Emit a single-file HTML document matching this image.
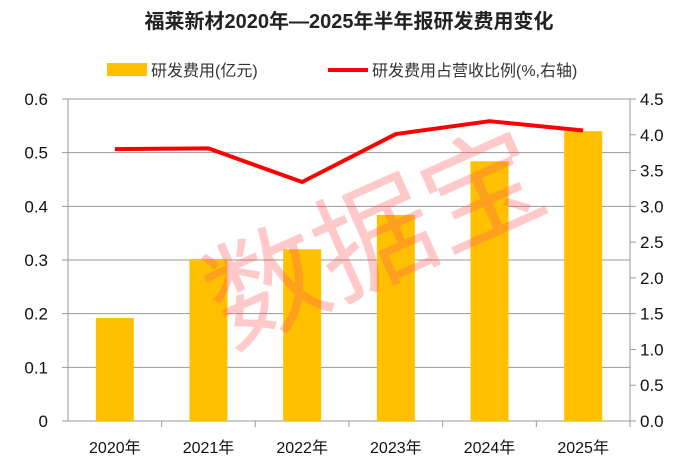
<!DOCTYPE html>
<html><head><meta charset="utf-8"><style>
body{margin:0;background:#fff;}
svg text{font-family:"Liberation Sans","Noto Sans CJK SC",sans-serif;}
</style></head><body>
<svg width="698" height="468" viewBox="0 0 698 468">
<text x="349" y="28" text-anchor="middle" font-size="20" font-weight="bold" fill="#222">福莱新材2020年—2025年半年报研发费用变化</text>
<g>
<rect x="107" y="63" width="40" height="13" fill="#FFC000"/>
<text x="151" y="76" font-size="16" fill="#333">研发费用(亿元)</text>
<line x1="328" y1="70" x2="368" y2="70" stroke="#FF0000" stroke-width="4"/>
<text x="372" y="76" font-size="16" fill="#333">研发费用占营收比例(%,右轴)</text>
</g>
<g id="grid"></g>
<g id="bars"></g>
<g id="axes"></g>
<polyline id="line" fill="none" stroke="#FF0000" stroke-width="4" stroke-linejoin="round"/>
<text x="375" y="280" text-anchor="middle" font-size="118" fill="rgba(255,90,90,0.33)" transform="rotate(-24 375 240)">数据宝</text>
</svg>
<script>
const categories=["2020年","2021年","2022年","2023年","2024年","2025年"];
const expense=[0.192,0.302,0.32,0.384,0.484,0.54];
const ratio=[3.80,3.81,3.34,4.01,4.19,4.06];
const leftTicks=[0,0.1,0.2,0.3,0.4,0.5,0.6];
const rightTicks=[0,0.5,1,1.5,2,2.5,3,3.5,4,4.5];
const X0=68,X1=630,Y0=421,Y1=99;
const ns="http://www.w3.org/2000/svg";
const yL=v=>Y0-(v/0.6)*(Y0-Y1);
const yR=v=>Y0-(v/4.5)*(Y0-Y1);
const step=(X1-X0)/categories.length;
const xC=i=>X0+step*(i+0.5);
function mk(tag,attrs,parent){const e=document.createElementNS(ns,tag);for(const k in attrs)e.setAttribute(k,attrs[k]);document.getElementById(parent).appendChild(e);return e;}
leftTicks.forEach(v=>{
 const y=yL(v);
 const g=mk('line',{x1:X0-6,x2:X1,y1:y,y2:y,stroke:'#999','stroke-width':1},'grid');
 
 
 const t=mk('text',{x:48,y:y+6,'text-anchor':'end','font-size':17,fill:'#111'},'axes');
 t.textContent=v===0?'0':v.toFixed(1);
 
 
});
rightTicks.forEach(v=>{
 const y=yR(v);
 const l=mk('line',{x1:X1,x2:X1+6,y1:y,y2:y,stroke:'#999'},'axes');
 
 
 const t=mk('text',{x:640,y:y+6,'font-size':17,fill:'#111'},'axes');
 t.textContent=v.toFixed(1);
 
 
});
const la=mk('line',{x1:X0,x2:X0,y1:Y1,y2:Y0,stroke:'#999'},'axes');


const ra=mk('line',{x1:X1,x2:X1,y1:Y1,y2:Y0,stroke:'#999'},'axes');


categories.forEach((c,i)=>{
 const b=mk('rect',{x:xC(i)-19,y:yL(expense[i]),width:38,height:Y0-yL(expense[i]),fill:'#FFC000'},'bars');
 
 
 const tk=mk('line',{x1:X0+step*(i+1),x2:X0+step*(i+1),y1:Y0,y2:Y0+6,stroke:'#999'},'axes');
 
 
 const t=mk('text',{x:xC(i),y:453,'text-anchor':'middle','font-size':16,fill:'#111'},'axes');
 t.textContent=c;
 
 
});
document.getElementById('line').setAttribute('points',ratio.map((v,i)=>xC(i)+','+yR(v)).join(' '));
</script>
</body></html>
